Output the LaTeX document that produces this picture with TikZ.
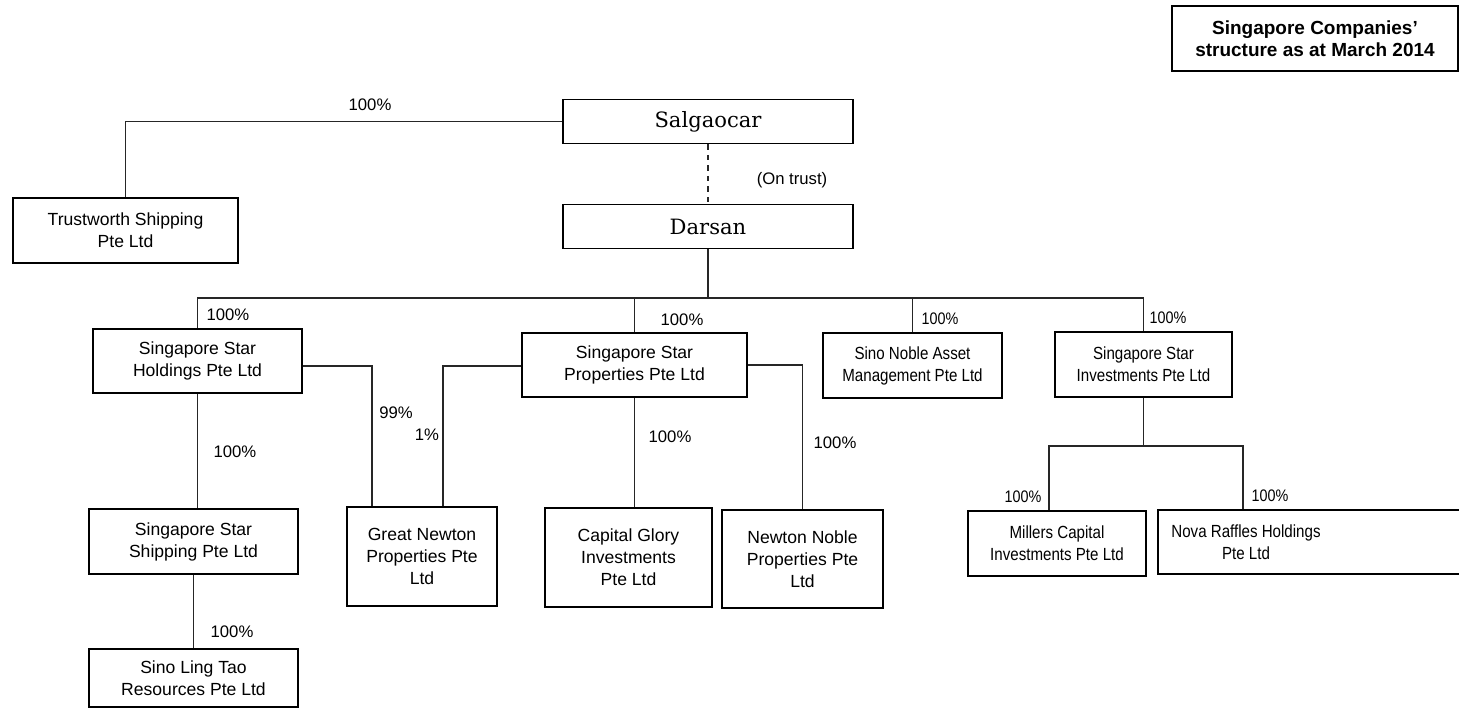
\documentclass[tikz,border=0pt]{standalone}
\usepackage{fontspec}
\setmainfont{Liberation Sans}
\newfontfamily\ownerfont{DejaVu Serif}
\newfontfamily\narrowfont[FakeStretch=0.86]{Liberation Sans}
\usepackage{tikz}
\usetikzlibrary{positioning, calc}

\begin{document}
\begin{tikzpicture}[
    company/.style={rectangle, draw, line width=0.9pt, align=center, inner sep=2pt, font=\fontsize{10}{12.5}\selectfont},
    companyr/.style={company, font=\narrowfont\fontsize{10}{12.5}\selectfont},
    owner/.style={rectangle, draw, line width=0.9pt, minimum width=5.8cm, minimum height=0.88cm, font=\ownerfont\fontsize{12}{14}\selectfont},
    share/.style={inner sep=1pt, font=\fontsize{9.5}{11}\selectfont},
    sharer/.style={share, font=\narrowfont\fontsize{9.5}{11}\selectfont},
    link/.style={line width=0.6pt, black!85}
]
    \useasboundingbox (0,0) rectangle (29.18,-14.22);

    \node[draw, line width=0.9pt, minimum width=5.72cm, minimum height=1.30cm, align=center, font=\bfseries\fontsize{10.8}{12.5}\selectfont] (legend) at (26.30,-0.77) {Singapore Companies'\\structure as at March 2014};

    \node[owner] (salg) at (14.16,-2.43) {Salgaocar};
    \node[owner] (dars) at (14.16,-4.53) {Darsan};
    \node[company, minimum width=4.50cm, minimum height=1.30cm] (trust) at (2.51,-4.61) {Trustworth Shipping\\Pte Ltd};

    \node[company, minimum width=4.18cm, minimum height=1.28cm] (hold) at (3.95,-7.22) {Singapore Star\\Holdings Pte Ltd};
    \node[company, minimum width=4.50cm, minimum height=1.28cm] (prop) at (12.69,-7.30) {Singapore Star\\Properties Pte Ltd};
    \node[companyr, minimum width=3.58cm, minimum height=1.30cm] (asset) at (18.25,-7.31) {Sino Noble Asset\\Management Pte Ltd};
    \node[companyr, minimum width=3.54cm, minimum height=1.30cm] (invest) at (22.87,-7.29) {Singapore Star\\Investments Pte Ltd};

    \node[company, minimum width=4.18cm, minimum height=1.30cm] (ship) at (3.87,-10.83) {Singapore Star\\Shipping Pte Ltd};
    \node[company, minimum width=4.18cm, minimum height=1.16cm] (lingtao) at (3.87,-13.56) {Sino Ling Tao\\Resources Pte Ltd};
    \node[company, minimum width=3.00cm, minimum height=1.98cm] (gnewton) at (8.44,-11.13) {Great Newton\\Properties Pte\\Ltd};
    \node[company, minimum width=3.34cm, minimum height=1.98cm] (glory) at (12.57,-11.15) {Capital Glory\\Investments\\Pte Ltd};
    \node[company, minimum width=3.22cm, minimum height=1.96cm] (nnoble) at (16.05,-11.18) {Newton Noble\\Properties Pte\\Ltd};
    \node[companyr, minimum width=3.56cm, minimum height=1.30cm] (millers) at (21.14,-10.87) {Millers Capital\\Investments Pte Ltd};
    \node[companyr, minimum width=6.10cm, minimum height=1.28cm, anchor=west] (nova) at (23.14,-10.84) {};
    \node[companyr, draw=none] (novatext) at (24.92,-10.84) {Nova Raffles Holdings\\Pte Ltd};

    % ownership lines
    \draw[link] (salg.west) -| (trust.north);
    \draw[link, dashed] (salg) -- (dars);
    \coordinate (bus) at (14.16,-5.96);
    \draw[link] (dars.south) -- (bus);
    \draw[link] (hold.north) |- (bus) -| (invest.north);
    \draw[link] (prop.north) -- (prop.north |- bus);
    \draw[link] (asset.north) -- (asset.north |- bus);
    \draw[link] ([yshift=-0.1cm]hold.east) -| ([xshift=-1cm]gnewton.north);
    \draw[link] ([yshift=-0.02cm]prop.west) -| ([xshift=0.42cm]gnewton.north);
    \draw[link] (hold.south) -- (hold.south |- ship.north);
    \draw[link] (ship.south) -- (ship.south |- lingtao.north);
    \draw[link] (prop.south) -- (prop.south |- glory.north);
    \draw[link] (prop.east) -| (nnoble.north);
    \coordinate (ibus) at (22.87,-8.92);
    \draw[link] (invest.south) -- (ibus);
    \draw[link] ([xshift=-0.16cm]millers.north) |- (ibus) -| ([xshift=1.72cm]nova.north west);

    % shares
    \node[share] (ltrust) at (7.40,-2.10) {100\%};
    \node[share] (ltrustee) at (15.84,-3.60) {(On trust)};
    \node[share] (lhold) at (4.56,-6.30) {100\%};
    \node[share] (lprop) at (13.64,-6.40) {100\%};
    \node[sharer] (lasset) at (18.80,-6.38) {100\%};
    \node[sharer] (linvest) at (23.36,-6.36) {100\%};
    \node[share] (lgn1) at (7.92,-8.26) {99\%};
    \node[share] (lgn2) at (8.54,-8.70) {1\%};
    \node[share] (lship) at (4.70,-9.04) {100\%};
    \node[share] (llingtao) at (4.64,-12.64) {100\%};
    \node[share] (lglory) at (13.40,-8.74) {100\%};
    \node[share] (lnnoble) at (16.70,-8.86) {100\%};
    \node[sharer] (lmillers) at (20.46,-9.94) {100\%};
    \node[sharer] (lnova) at (25.40,-9.92) {100\%};
\end{tikzpicture}
\end{document}
